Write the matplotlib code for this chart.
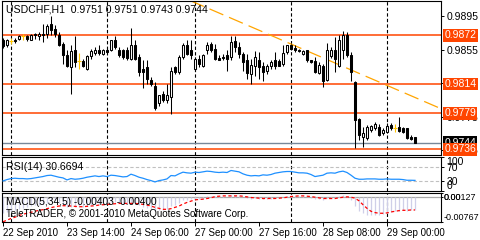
import numpy as np
import matplotlib.pyplot as plt
from matplotlib.transforms import blended_transform_factory

plt.rcParams['font.family'] = ['Liberation Sans', 'DejaVu Sans']

# USDCHF H1 bars, 22 Sep 22:00 .. 29 Sep 07:00
opens = [0.9867, 0.9860, 0.9865, 0.9867, 0.9868, 0.9871, 0.9871, 0.9867, 0.9874, 0.9871,
         0.9874, 0.9874, 0.9885, 0.9879, 0.9872, 0.9862, 0.9849, 0.9834, 0.9854, 0.9841,
         0.9841, 0.9832, 0.9847, 0.9851, 0.9854, 0.9850, 0.9855, 0.9854, 0.9866, 0.9855,
         0.9854, 0.9854, 0.9844, 0.9861, 0.9846, 0.9832, 0.9834, 0.9819, 0.9811, 0.9791,
         0.9802, 0.9795, 0.9799, 0.9834, 0.9828, 0.9846, 0.9860, 0.9855, 0.9832, 0.9844,
         0.9836, 0.9854, 0.9862, 0.9856, 0.9845, 0.9846, 0.9848, 0.9846, 0.9865, 0.9858,
         0.9850, 0.9843, 0.9826, 0.9836, 0.9843, 0.9835, 0.9830, 0.9836, 0.9842, 0.9841,
         0.9838, 0.9852, 0.9861, 0.9857, 0.9855, 0.9850, 0.9854, 0.9842, 0.9841, 0.9827,
         0.9836, 0.9819, 0.9847, 0.9855, 0.9836, 0.9854, 0.9872, 0.9849, 0.9816, 0.9772,
         0.9751, 0.9750, 0.9759, 0.9761, 0.9763, 0.9755, 0.9757, 0.9765, 0.9761, 0.9763,
         0.9761, 0.9761, 0.9751, 0.9751]
highs = [0.9869, 0.9868, 0.9869, 0.9869, 0.9873, 0.9874, 0.9873, 0.9874, 0.9875, 0.9876,
         0.9886, 0.9886, 0.9895, 0.9884, 0.9876, 0.9864, 0.9854, 0.9860, 0.9871, 0.9851,
         0.9844, 0.9848, 0.9856, 0.9858, 0.9860, 0.9856, 0.9858, 0.9867, 0.9871, 0.9858,
         0.9856, 0.9858, 0.9881, 0.9867, 0.9850, 0.9842, 0.9842, 0.9822, 0.9816, 0.9801,
         0.9805, 0.9814, 0.9834, 0.9836, 0.9848, 0.9863, 0.9867, 0.9866, 0.9846, 0.9848,
         0.9850, 0.9864, 0.9864, 0.9862, 0.9848, 0.9850, 0.9854, 0.9871, 0.9871, 0.9864,
         0.9852, 0.9850, 0.9844, 0.9853, 0.9852, 0.9840, 0.9838, 0.9842, 0.9852, 0.9844,
         0.9860, 0.9861, 0.9862, 0.9860, 0.9856, 0.9854, 0.9855, 0.9843, 0.9846, 0.9840,
         0.9838, 0.9863, 0.9858, 0.9870, 0.9872, 0.9877, 0.9876, 0.9852, 0.9818, 0.9773,
         0.9763, 0.9765, 0.9765, 0.9769, 0.9766, 0.9761, 0.9767, 0.9767, 0.9766, 0.9774,
         0.9763, 0.9762, 0.9753, 0.9751]
lows = [0.9857, 0.9858, 0.9862, 0.9863, 0.9866, 0.9867, 0.9865, 0.9866, 0.9868, 0.9867,
        0.9864, 0.9869, 0.9872, 0.9870, 0.9859, 0.9838, 0.9834, 0.9802, 0.9834, 0.9832,
        0.9834, 0.9831, 0.9844, 0.9848, 0.9848, 0.9848, 0.9850, 0.9853, 0.9856, 0.9846,
        0.9844, 0.9843, 0.9843, 0.9843, 0.9824, 0.9809, 0.9814, 0.9811, 0.9783, 0.9788,
        0.9793, 0.9791, 0.9778, 0.9826, 0.9826, 0.9844, 0.9848, 0.9844, 0.9830, 0.9834,
        0.9834, 0.9850, 0.9852, 0.9842, 0.9842, 0.9843, 0.9830, 0.9843, 0.9852, 0.9845,
        0.9830, 0.9820, 0.9814, 0.9823, 0.9820, 0.9818, 0.9826, 0.9832, 0.9832, 0.9835,
        0.9836, 0.9850, 0.9854, 0.9852, 0.9852, 0.9848, 0.9840, 0.9839, 0.9827, 0.9826,
        0.9810, 0.9818, 0.9845, 0.9828, 0.9834, 0.9844, 0.9846, 0.9818, 0.9737, 0.9747,
        0.9739, 0.9747, 0.9757, 0.9759, 0.9752, 0.9753, 0.9755, 0.9759, 0.9757, 0.9757,
        0.9756, 0.9748, 0.9747, 0.9743]
closes = [0.9859, 0.9866, 0.9865, 0.9865, 0.9871, 0.9871, 0.9868, 0.9872, 0.9872, 0.9874,
          0.9872, 0.9883, 0.9878, 0.9874, 0.9860, 0.9848, 0.9835, 0.9853, 0.9840, 0.9841,
          0.9835, 0.9847, 0.9853, 0.9855, 0.9851, 0.9854, 0.9852, 0.9866, 0.9858, 0.9848,
          0.9846, 0.9845, 0.9860, 0.9844, 0.9828, 0.9828, 0.9820, 0.9814, 0.9785, 0.9801,
          0.9795, 0.9801, 0.9830, 0.9828, 0.9846, 0.9860, 0.9850, 0.9848, 0.9844, 0.9838,
          0.9848, 0.9860, 0.9854, 0.9844, 0.9843, 0.9845, 0.9844, 0.9864, 0.9858, 0.9850,
          0.9840, 0.9827, 0.9837, 0.9846, 0.9834, 0.9828, 0.9835, 0.9840, 0.9836, 0.9836,
          0.9851, 0.9860, 0.9856, 0.9854, 0.9853, 0.9853, 0.9842, 0.9840, 0.9828, 0.9837,
          0.9818, 0.9854, 0.9854, 0.9844, 0.9866, 0.9872, 0.9848, 0.9828, 0.9771, 0.9753,
          0.9756, 0.9763, 0.9764, 0.9766, 0.9753, 0.9759, 0.9764, 0.9761, 0.9761, 0.9758,
          0.9757, 0.9749, 0.9748, 0.9744]

rsi = [29, 33, 36, 37, 36, 36, 35, 36, 38, 40, 42, 45, 46, 43, 40, 38, 32, 36, 34, 35,
       37, 40, 42, 44, 42, 44, 42, 46, 45, 43, 41, 42, 49, 45, 40, 37, 33, 30, 26, 30,
       32, 35, 45, 44, 50, 55, 53, 52, 55, 54, 56, 58, 57, 55, 54, 55, 54, 60, 58, 56,
       50, 46, 44, 45, 44, 47, 46, 48, 52, 54, 56, 57, 57, 55, 53, 53, 52, 48, 42, 44,
       46, 52, 53, 52, 56, 58, 54, 46, 37, 34, 34, 35, 35, 35, 34, 34, 35, 34, 34, 34,
       33, 31, 31, 30.6694]

# MACD(5,34,5) in pips
macd_main = [-50, -45, -42, -40, -36, -33, -30, -28, -26, -24, -22, -18, -14, -14, -18, -25,
             -32, -30, -30, -30, -30, -27, -24, -22, -21, -20, -20, -17, -17, -19, -21, -22,
             -18, -20, -26, -30, -33, -36, -42, -40, -40, -37, -28, -26, -19, -11, -9, -8,
             -7, -7, -5, 2, 4, 3, 2, 2, 1, 5, 5, 3, -1, -4, -5, -4, -5, -7, -6, -5, -4, -4,
             0, 3, 4, 4, 3, 2, 0, -2, -6, -6, -9, -3, -2, -3, 2, 5, 2, -10, -28, -42, -50,
             -54, -55, -55, -54, -52, -50, -46, -44, -42, -41, -42, -41, -40.3]
macd_signal = [-76, -71, -66, -62, -57, -53, -50, -47, -44, -41, -39, -36, -33, -30, -28, -27,
               -27, -28, -29, -30, -30, -29, -28, -27, -25, -24, -23, -22, -21, -20, -20, -20,
               -20, -20, -21, -23, -25, -28, -32, -35, -38, -38, -36, -32, -28, -22, -17, -13,
               -9, -8, -7, -5, -3, 1, 2, 3, 3, 3, 3, 3, 2, 0, -2, -3, -4, -5, -5, -5, -5, -4,
               -3, -1, 1, 2, 3, 3, 2, 1, -1, -3, -5, -5, -5, -5, -3, -1, 0, -1, -4, -12, -24,
               -35, -44, -48, -50, -50, -49, -46, -44, -42, -41, -41, -40, -40.0]

levels = [0.9872, 0.9814, 0.9779, 0.9736]
bid = 0.9744
trend_pts = [(48.5, 0.9910), (109.25, 0.9785)]
day_starts = [2, 26, 48, 72, 96]
tick_bars = [0, 16, 32, 48, 64, 80, 96]
tick_labels = ['22 Sep 2010', '23 Sep 14:00', '24 Sep 06:00', '27 Sep 00:00',
               '27 Sep 16:00', '28 Sep 08:00', '29 Sep 00:00']
price_ticks = [0.9895, 0.9855, 0.9815, 0.9775, 0.9735]

W, H = 480, 240
fig = plt.figure(figsize=(4.8, 2.4), dpi=100)
fig.patch.set_facecolor('white')


def px_axes(x0, y0, x1, y1):
    ax = fig.add_axes([x0 / W, 1 - y1 / H, (x1 - x0) / W, (y1 - y0) / H])
    for s in ax.spines.values():
        s.set_linewidth(0.8)
        s.set_color('black')
    ax.yaxis.tick_right()
    ax.tick_params(axis='y', direction='out', length=2, width=0.7, pad=2, labelsize=7.5)
    ax.set_xlim(-0.25, 109.5)
    for d in day_starts:
        ax.axvline(d, color='black', lw=0.8, ls=(0, (3, 2)), zorder=1)
    return ax


main = px_axes(2, 0.5, 441, 155)
rsi_ax = px_axes(2, 157, 441, 190.7)
macd_ax = px_axes(2, 192.7, 441, 222)

x = np.arange(len(opens))
o, h, l, c = map(np.array, (opens, highs, lows, closes))
doji = np.isclose(o, c)
up = (c > o) & ~doji
down = (c < o) & ~doji

# candles
main.vlines(x[~doji], l[~doji], h[~doji], color='black', lw=0.75, zorder=3)
main.bar(x[up], (c - o)[up], bottom=o[up], width=0.6, color='white', edgecolor='black',
         lw=0.75, zorder=4)
main.bar(x[down], (o - c)[down], bottom=c[down], width=0.6, color='black', edgecolor='black',
         lw=0.75, zorder=4)
main.vlines(x[doji], l[doji], h[doji], color='#ffc400', lw=0.8, zorder=4)
main.hlines(o[doji], x[doji] - 0.45, x[doji] + 0.45, color='#ffc400', lw=0.8, zorder=4)

for lv in levels:
    main.axhline(lv, color='#ff4500', lw=1.1, zorder=2)
main.axhline(bid, color='#778899', lw=1.0, zorder=2)
main.axline(trend_pts[0], trend_pts[1], color='#ffa500', lw=0.9, ls=(0, (12, 5)), zorder=2)

main.set_ylim(0.97292, 0.99136)
main.set_yticks(price_ticks)
main.set_yticklabels([f'{p:.4f}' for p in price_ticks])
main.set_xticks([])

tr = blended_transform_factory(main.transAxes, main.transData)
main.text(1.0075, bid, f'{bid:.4f}', transform=tr, color='white', fontsize=7.5, va='center',
          ha='left', clip_on=False, zorder=6,
          bbox=dict(boxstyle='square,pad=0.12', fc='black', ec='none'))
for lv in levels:
    main.text(1.0075, lv, f'{lv:.4f}', transform=tr, color='white', fontsize=7.5, va='center',
              ha='left', clip_on=False, zorder=7,
              bbox=dict(boxstyle='square,pad=0.12', fc='#ff4500', ec='none'))

# RSI
rsi_ax.plot(x, rsi, color='#1e90ff', lw=0.9, zorder=3)
rsi_ax.axhline(70, color='#c0c0c0', lw=0.8, ls=(0, (3, 2)), zorder=1)
rsi_ax.axhline(30, color='#c0c0c0', lw=0.8, ls=(0, (3, 2)), zorder=1)
rsi_ax.set_ylim(0, 100)
rsi_ax.set_xticks([])
rsi_ax.set_yticks([100, 70, 30, 0])
rsi_ax.set_yticklabels(['100', '70', '30', '0'])
rl = rsi_ax.get_yticklabels()
rl[0].set_va('top')
rl[3].set_va('bottom')

# MACD
mm = np.array(macd_main) / 10000
ms = np.array(macd_signal) / 10000
macd_ax.vlines(x, 0, mm, color='#cfcfe8', lw=0.9, zorder=2)
macd_ax.axhline(0, color='#a8a8a8', lw=0.9, zorder=1)
macd_ax.plot(x, ms, color='red', lw=0.9, ls=(0, (2.5, 2)), zorder=3)
macd_ax.set_ylim(-0.00767, 0.00127)
macd_ax.set_yticks([0.00127, 0.0, -0.00767])
macd_ax.set_yticklabels(['0.00127', '0.00', '-0.00767'])
macd_ax.tick_params(axis='y', labelsize=6.5, pad=0.6, length=1.5)
ml = macd_ax.get_yticklabels()
ml[0].set_va('top')
ml[2].set_va('bottom')
macd_ax.set_xticks(tick_bars)
macd_ax.set_xticklabels(tick_labels, ha='left', fontsize=7)
macd_ax.tick_params(axis='x', direction='out', length=3, width=0.7, pad=1.5)

fig.text(6 / W, 1 - 10 / H, 'USDCHF,H1  0.9751 0.9751 0.9743 0.9744', fontsize=7.6, va='center')
fig.text(6 / W, 1 - 167 / H, 'RSI(14) 30.6694', fontsize=7.6, va='center')
fig.text(6 / W, 1 - 202 / H, 'MACD(5,34,5) -0.00403 -0.00400', fontsize=7.3, va='center')
fig.text(6 / W, 1 - 214 / H, 'TeleTRADER, © 2001-2010 MetaQuotes Software Corp.', fontsize=7,
         va='center')

fig.savefig('out.png', dpi=100)
